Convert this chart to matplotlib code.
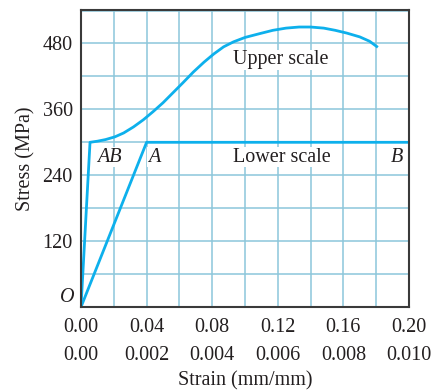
import matplotlib
matplotlib.use("Agg")
import matplotlib.pyplot as plt

# upper scale curve (strain 0 - 0.20)
upper_strain = [0.0, 0.0055, 0.010, 0.015, 0.0207, 0.026, 0.032, 0.038, 0.044,
                0.050, 0.056, 0.062, 0.0685, 0.075, 0.081, 0.087, 0.093, 0.100,
                0.109, 0.117, 0.125, 0.133, 0.140, 0.148, 0.155, 0.162, 0.170,
                0.176, 0.181]
upper_stress = [0, 300, 302, 305, 310, 317, 328, 341, 356,
                372, 390, 408, 428, 446, 461, 474, 483, 491,
                498, 504, 508, 510, 510, 508, 504, 499, 492,
                484, 473]

# lower scale curve (strain 0 - 0.010)
lower_strain = [0.0, 0.002, 0.010]
lower_stress = [0, 300, 300]

upper_ticks = [0.00, 0.04, 0.08, 0.12, 0.16, 0.20]
upper_labels = ["0.00", "0.04", "0.08", "0.12", "0.16", "0.20"]
lower_labels = ["0.00", "0.002", "0.004", "0.006", "0.008", "0.010"]
stress_ticks = [120, 240, 360, 480]

SCALE = 0.20 / 0.010  # lower scale -> upper scale axis units
CURVE = "#0db0ec"
GRID = "#8cc6db"
INK = "#231f20"

plt.rcParams["font.family"] = ["Liberation Serif", "DejaVu Serif"]
plt.rcParams["font.size"] = 14.5

fig = plt.figure(figsize=(4.38, 3.91), dpi=100)
ax = fig.add_axes([81 / 438, 1 - 307 / 391, 328 / 438, 297 / 391])

ax.set_xlim(0, 0.20)
ax.set_ylim(0, 541)

for x in [i * 0.02 for i in range(1, 10)]:
    ax.axvline(x, color=GRID, lw=1.1, zorder=1)
for y in range(60, 541, 60):
    ax.axhline(y, color=GRID, lw=1.1, zorder=1)

ax.plot(upper_strain, upper_stress, color=CURVE, lw=2.0, zorder=3,
        solid_capstyle="butt")
ax.plot([s * SCALE for s in lower_strain], lower_stress, color=CURVE, lw=2.0,
        zorder=3, solid_capstyle="butt")

ax.set_xticks(upper_ticks)
ax.set_xticklabels([f"{u}\n{l}" for u, l in zip(upper_labels, lower_labels)],
                   linespacing=1.6)
ax.set_yticks(stress_ticks)
ax.tick_params(length=0, colors=INK)
ax.tick_params(axis="x", pad=8)
ax.tick_params(axis="y", pad=6)

for side in ["left", "bottom", "right", "top"]:
    ax.spines[side].set_color("#3a3a3a")
    ax.spines[side].set_linewidth(1.5)
    ax.spines[side].set_zorder(4)

ax.set_xlabel("Strain (mm/mm)", color=INK, labelpad=5)
ax.set_ylabel("Stress (MPa)", color=INK, labelpad=5)

box = dict(facecolor="white", edgecolor="none", pad=0.5)
ax.text(-0.004, 0, "O", style="italic", ha="right", va="bottom", color=INK)
ax.text(0.0173, 273, "AB", style="italic", ha="center", va="center", color=INK, bbox=box)
ax.text(0.0445, 273, "A", style="italic", ha="center", va="center", color=INK, bbox=box)
ax.text(0.1927, 273, "B", style="italic", ha="center", va="center", color=INK, bbox=box)
ax.text(0.1222, 273, "Lower scale", ha="center", va="center", color=INK, bbox=box)
ax.text(0.1218, 450, "Upper scale", ha="center", va="center", color=INK, bbox=box)

fig.savefig("out.png", dpi=100)
